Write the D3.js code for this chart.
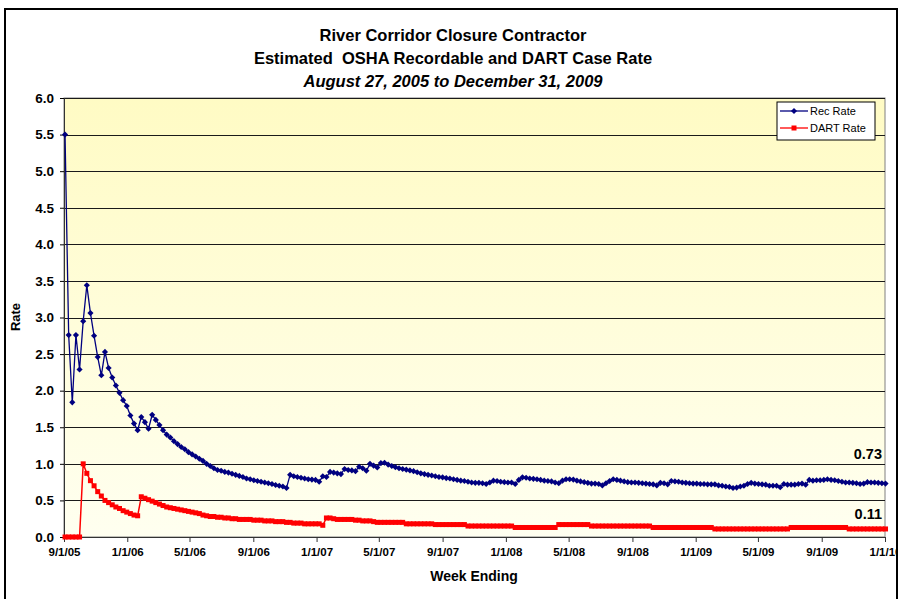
<!DOCTYPE html>
<html>
<head>
<meta charset="utf-8">
<script src="https://cdn.jsdelivr.net/npm/d3@7"></script>
<style>
  body { margin: 0; background: #fff; }
  svg { font-family: "Liberation Sans", Arial, sans-serif; }
</style>
</head>
<body>
<div id="chart"></div>
<script>
// weekly rates, week ending Saturday 9/3/05 .. 1/2/10
const firstWeek = '2005-09-03', lastWeek = '2010-01-02';

const recRate = [
  5.50, 2.76, 1.84, 2.76, 2.29, 2.95, 3.44, 3.06, 2.75, 2.46,
  2.21, 2.53, 2.31, 2.18, 2.07, 1.97, 1.87, 1.79, 1.66, 1.55,
  1.46, 1.64, 1.57, 1.48, 1.67, 1.60, 1.53, 1.46, 1.40, 1.36,
  1.31, 1.27, 1.23, 1.20, 1.16, 1.13, 1.10, 1.07, 1.04, 1.00,
  0.97, 0.94, 0.915, 0.905, 0.89, 0.88, 0.865, 0.85, 0.835, 0.82,
  0.80, 0.79, 0.775, 0.765, 0.755, 0.745, 0.735, 0.725, 0.71, 0.70,
  0.69, 0.67, 0.85, 0.83, 0.82, 0.81, 0.80, 0.79, 0.785, 0.78,
  0.755, 0.83, 0.82, 0.89, 0.88, 0.87, 0.86, 0.93, 0.915, 0.91,
  0.90, 0.96, 0.94, 0.905, 1.00, 0.975, 0.95, 1.01, 1.015, 0.99,
  0.97, 0.955, 0.94, 0.93, 0.92, 0.91, 0.90, 0.885, 0.87, 0.86,
  0.85, 0.84, 0.83, 0.82, 0.815, 0.805, 0.80, 0.79, 0.78, 0.77,
  0.765, 0.755, 0.745, 0.74, 0.74, 0.735, 0.725, 0.745, 0.77, 0.765,
  0.755, 0.75, 0.745, 0.745, 0.725, 0.78, 0.815, 0.81, 0.80, 0.795,
  0.79, 0.78, 0.77, 0.765, 0.76, 0.745, 0.735, 0.77, 0.79, 0.79,
  0.785, 0.77, 0.76, 0.75, 0.74, 0.73, 0.73, 0.725, 0.705, 0.735,
  0.765, 0.79, 0.78, 0.77, 0.76, 0.75, 0.745, 0.745, 0.74, 0.735,
  0.73, 0.725, 0.72, 0.705, 0.74, 0.735, 0.72, 0.765, 0.76, 0.755,
  0.745, 0.74, 0.735, 0.73, 0.73, 0.725, 0.725, 0.72, 0.72, 0.72,
  0.705, 0.70, 0.69, 0.685, 0.67, 0.675, 0.69, 0.70, 0.725, 0.74,
  0.73, 0.725, 0.72, 0.715, 0.70, 0.70, 0.70, 0.68, 0.725, 0.715,
  0.715, 0.715, 0.725, 0.73, 0.715, 0.78, 0.77, 0.775, 0.775, 0.78,
  0.79, 0.78, 0.775, 0.765, 0.755, 0.745, 0.745, 0.74, 0.735, 0.725,
  0.73, 0.75, 0.745, 0.745, 0.74, 0.735, 0.73
];

const dartRate = [
  0, 0, 0, 0, 0,
  1.00, 0.87, 0.77, 0.70, 0.62, 0.56, 0.50, 0.47, 0.44, 0.41,
  0.39, 0.36, 0.34, 0.32, 0.30, 0.29,
  0.55, 0.53, 0.51, 0.49, 0.47, 0.45, 0.43, 0.41, 0.40, 0.39,
  0.38, 0.37, 0.36, 0.35, 0.34, 0.33,
  0.32, 0.30, 0.29, 0.28, 0.28, 0.27, 0.27, 0.26, 0.26, 0.25,
  0.25, 0.24, 0.24, 0.24, 0.24, 0.23, 0.23, 0.23, 0.22, 0.22,
  0.22, 0.21, 0.21, 0.21, 0.20, 0.20, 0.19, 0.19, 0.19, 0.18,
  0.18, 0.18, 0.18, 0.18,
  0.16,
  0.26, 0.26, 0.25, 0.24, 0.24, 0.24, 0.24, 0.24, 0.23, 0.23,
  0.22, 0.22, 0.22, 0.21,
  0.20, 0.20, 0.20, 0.20, 0.20, 0.20, 0.20, 0.20,
  0.18, 0.18, 0.18, 0.18, 0.18, 0.18, 0.18, 0.18,
  0.17, 0.17, 0.17, 0.17, 0.17, 0.17, 0.17, 0.17, 0.17,
  0.15, 0.15, 0.15, 0.15, 0.15, 0.15, 0.15, 0.15, 0.15, 0.15, 0.15, 0.15, 0.15,
  0.13, 0.13, 0.13, 0.13, 0.13, 0.13, 0.13, 0.13, 0.13, 0.13, 0.13, 0.13,
  0.17, 0.17, 0.17, 0.17, 0.17, 0.17, 0.17, 0.17, 0.17,
  0.15, 0.15, 0.15, 0.15, 0.15, 0.15, 0.15, 0.15, 0.15, 0.15, 0.15, 0.15, 0.15, 0.15, 0.15, 0.15, 0.15,
  0.13, 0.13, 0.13, 0.13, 0.13, 0.13, 0.13, 0.13, 0.13, 0.13, 0.13, 0.13, 0.13, 0.13, 0.13, 0.13, 0.13,
  0.11, 0.11, 0.11, 0.11, 0.11, 0.11, 0.11, 0.11, 0.11, 0.11, 0.11,
  0.11, 0.11, 0.11, 0.11, 0.11, 0.11, 0.11, 0.11, 0.11, 0.11,
  0.13, 0.13, 0.13, 0.13, 0.13, 0.13, 0.13, 0.13, 0.13, 0.13, 0.13, 0.13, 0.13, 0.13, 0.13, 0.13,
  0.11, 0.11, 0.11, 0.11, 0.11, 0.11, 0.11, 0.11, 0.11, 0.11, 0.11
];

const tickLabels = ['9/1/05', '1/1/06', '5/1/06', '9/1/06', '1/1/07', '5/1/07', '9/1/07',
  '1/1/08', '5/1/08', '9/1/08', '1/1/09', '5/1/09', '9/1/09', '1/1/10'];
const yTicks = [0, 0.5, 1, 1.5, 2, 2.5, 3, 3.5, 4, 4.5, 5, 5.5, 6];

const titles = ['River Corridor Closure Contractor',
  'Estimated  OSHA Recordable and DART Case Rate',
  'August 27, 2005 to December 31, 2009'];

const width = 903, height = 599;
let margin = {top: 98, right: 18, bottom: 62, left: 64};
let pw = 885 - margin.left, ph = 537 - margin.top;

let parseTick = d3.timeParse('%m/%d/%y');
let parseDay = d3.timeParse('%Y-%m-%d');
let weeks = d3.timeSaturday.range(parseDay(firstWeek), d3.timeDay.offset(parseDay(lastWeek), 1));
let tickDates = tickLabels.map(parseTick);

let rec = weeks.map((d, i) => ({date: d, v: recRate[i]}));
let dart = weeks.map((d, i) => ({date: d, v: dartRate[i]}));

let svg = d3.select('#chart').append('svg')
    .attr('width', width)
    .attr('height', height);

let defs = svg.append('defs');
let grad = defs.append('linearGradient')
    .attr('id', 'bg').attr('x1', 0).attr('y1', 0).attr('x2', 0).attr('y2', 1);
grad.append('stop').attr('offset', '0%').attr('stop-color', '#fffbc4');
grad.append('stop').attr('offset', '100%').attr('stop-color', '#fffff0');

defs.append('clipPath').attr('id', 'outer')
  .append('rect').attr('x', 5).attr('y', 9).attr('width', 892).attr('height', 600);

let root = svg.append('g').attr('clip-path', 'url(#outer)');

// titles
root.selectAll('.title')
  .data(titles)
  .enter()
  .append('text')
    .attr('x', 453)
    .attr('y', (d, i) => 41 + i * 23)
    .attr('text-anchor', 'middle')
    .style('font-size', '16.5px')
    .style('font-weight', 'bold')
    .style('font-style', (d, i) => i == 2 ? 'italic' : 'normal')
    .style('white-space', 'pre')
    .text(d => d);

let g = root.append('g')
    .attr('transform', `translate(${margin.left},${margin.top})`);

let x = d3.scaleTime()
    .domain([tickDates[0], tickDates[tickDates.length - 1]])
    .range([0, pw]);

let y = d3.scaleLinear()
    .domain([0, 6])
    .range([ph, 0]);

g.append('rect')
    .attr('width', pw)
    .attr('height', ph)
    .attr('fill', 'url(#bg)')
    .attr('stroke', '#808080');

// gridlines
g.append('g')
  .selectAll('line')
  .data(yTicks.slice(1))
  .enter()
  .append('line')
    .attr('x1', 0).attr('x2', pw)
    .attr('y1', d => Math.round(y(d)) + 0.5)
    .attr('y2', d => Math.round(y(d)) + 0.5)
    .attr('stroke', '#1a1a1a');

// Y axis
let yAxis = g.append('g')
    .call(d3.axisLeft(y).tickValues(yTicks).tickFormat(d3.format('.1f')).tickSize(4).tickPadding(6));
yAxis.select('.domain').attr('stroke', '#333');
yAxis.selectAll('text').style('font-size', '13.5px').style('font-weight', 'bold').attr('fill', '#000');

// X axis
let xAxis = g.append('g')
    .attr('transform', `translate(0,${ph})`)
    .call(d3.axisBottom(x).tickValues(tickDates).tickFormat((d, i) => tickLabels[i]).tickSize(5).tickPadding(6));
xAxis.select('.domain').attr('stroke', '#333');
xAxis.selectAll('line').attr('stroke', '#333');
xAxis.selectAll('text').style('font-size', '11.5px').style('font-weight', 'bold').attr('fill', '#000');

root.append('text')
    .attr('x', 474).attr('y', 581)
    .attr('text-anchor', 'middle')
    .style('font-size', '14px').style('font-weight', 'bold')
    .text('Week Ending');

root.append('text')
    .attr('transform', 'translate(20,317) rotate(-90)')
    .attr('text-anchor', 'middle')
    .style('font-size', '13px').style('font-weight', 'bold')
    .text('Rate');

let line = d3.line()
    .x(d => x(d.date))
    .y(d => y(d.v));

// DART series
g.append('path')
    .datum(dart)
    .attr('d', line)
    .attr('fill', 'none')
    .attr('stroke', '#ff0000')
    .attr('stroke-width', 1.5);
g.append('g')
  .selectAll('rect')
  .data(dart)
  .enter()
  .append('rect')
    .attr('x', d => x(d.date) - 2.5)
    .attr('y', d => y(d.v) - 2.5)
    .attr('width', 5).attr('height', 5)
    .attr('fill', '#ff0000');

// Rec series
g.append('path')
    .datum(rec)
    .attr('d', line)
    .attr('fill', 'none')
    .attr('stroke', '#000080')
    .attr('stroke-width', 1.3);
let diamond = d3.symbol().type(d3.symbolDiamond2).size(24);
g.append('g')
  .selectAll('path')
  .data(rec)
  .enter()
  .append('path')
    .attr('d', diamond)
    .attr('transform', d => `translate(${x(d.date)},${y(d.v)})`)
    .attr('fill', '#000080');

// end value labels
let endLabels = [
  {v: recRate[recRate.length - 1], dy: -25},
  {v: dartRate[dartRate.length - 1], dy: -10}
];
g.selectAll('.endlab')
  .data(endLabels)
  .enter()
  .append('text')
    .attr('x', pw - 3)
    .attr('y', d => y(d.v) + d.dy)
    .attr('text-anchor', 'end')
    .style('font-size', '14.5px').style('font-weight', 'bold')
    .text(d => d3.format('.2f')(d.v));

// legend
let legend = root.append('g').attr('transform', 'translate(777,102)');
legend.append('rect')
    .attr('width', 98).attr('height', 38)
    .attr('fill', '#fff').attr('stroke', '#000');
let items = [{name: 'Rec Rate', color: '#000080', sym: 'd'}, {name: 'DART Rate', color: '#ff0000', sym: 's'}];
items.forEach((it, i) => {
  let ly = 9 + i * 17;
  legend.append('line')
      .attr('x1', 3).attr('x2', 31).attr('y1', ly).attr('y2', ly)
      .attr('stroke', it.color).attr('stroke-width', 1.3);
  if (it.sym == 'd') {
    legend.append('path').attr('d', diamond).attr('transform', `translate(17,${ly})`).attr('fill', it.color);
  } else {
    legend.append('rect').attr('x', 14.5).attr('y', ly - 2.5).attr('width', 5).attr('height', 5).attr('fill', it.color);
  }
  legend.append('text')
      .attr('x', 33).attr('y', ly + 4)
      .style('font-size', '11px')
      .text(it.name);
});

// outer border
svg.append('rect')
    .attr('x', 5).attr('y', 9).attr('width', 892).attr('height', 600)
    .attr('fill', 'none').attr('stroke', '#000').attr('stroke-width', 2);
</script>
</body>
</html>
